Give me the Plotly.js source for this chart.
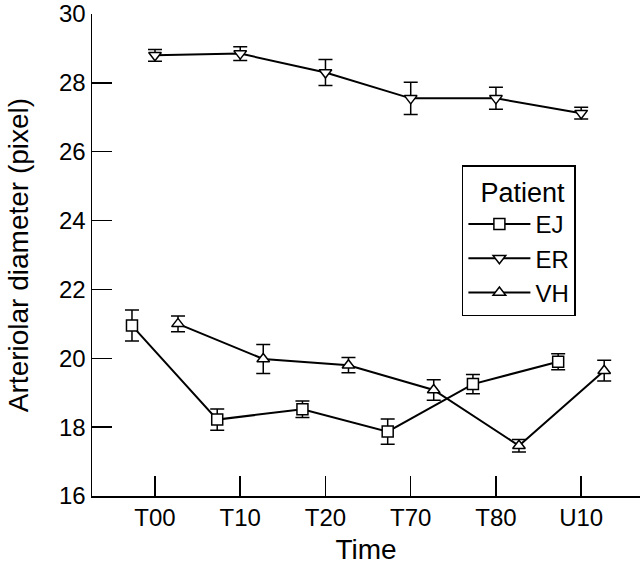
<!DOCTYPE html>
<html>
<head>
<meta charset="utf-8">
<script src="https://cdn.plot.ly/plotly-3.0.1.min.js"></script>
<style>html,body{margin:0;padding:0;background:#fff;}#chart{width:640px;height:565px;}</style>
</head>
<body>
<div id="chart"></div>
<script>
const categories = ['T00', 'T10', 'T20', 'T70', 'T80', 'U10'];
const yTicks = [16, 18, 20, 22, 24, 26, 28, 30];
const ejValues = [20.95, 18.22, 18.52, 17.87, 19.25, 19.9];
const ejErrors = [0.45, 0.31, 0.24, 0.37, 0.28, 0.23];
const erValues = [28.8, 28.85, 28.3, 27.55, 27.55, 27.12];
const erErrors = [0.17, 0.2, 0.38, 0.47, 0.32, 0.17];
const vhValues = [21.0, 19.98, 19.8, 19.08, 17.46, 19.64];
const vhErrors = [0.23, 0.42, 0.22, 0.3, 0.18, 0.3];

const dodge = 0.27;
const FONT = '"Liberation Sans", Arial, sans-serif';

function series(name, values, errors, offset, symbol) {
  return {
    type: 'scatter', mode: 'lines+markers', name: name,
    x: categories.map((c, i) => i + offset),
    y: values,
    line: {color: '#000', width: 2},
    marker: {symbol: symbol, size: 11, color: '#fff', line: {color: '#000', width: 1.5}},
    error_y: {type: 'data', array: errors, visible: true, color: '#000', thickness: 1.5, width: 7}
  };
}

const data = [
  series('EJ', ejValues, ejErrors, -dodge, 'square'),
  series('ER', erValues, erErrors, 0, 'triangle-down'),
  series('VH', vhValues, vhErrors, dodge, 'triangle-up')
];

const layout = {
  width: 640, height: 565,
  margin: {l: 92, r: 0, t: 14, b: 69},
  paper_bgcolor: '#fff', plot_bgcolor: '#fff',
  font: {family: FONT, color: '#000', size: 24},
  showlegend: true,
  legend: {
    x: 0.675, y: 0.686, xanchor: 'left', yanchor: 'top',
    bgcolor: '#fff', bordercolor: '#000', borderwidth: 1.5,
    itemwidth: 62,
    font: {family: FONT, size: 24, color: '#000'},
    title: {text: '\u00a0\u00a0Patient', font: {family: FONT, size: 27, color: '#000'}},
    tracegroupgap: 0
  },
  xaxis: {
    range: [-0.739, 5.69],
    tickmode: 'array', tickvals: categories.map((c, i) => i), ticktext: categories,
    ticks: 'inside', ticklen: 20, tickwidth: 1.5, tickcolor: '#000',
    showline: true, linecolor: '#000', linewidth: 1.5,
    showgrid: false, zeroline: false,
    tickfont: {family: FONT, size: 24, color: '#000'},
    title: {text: 'Time', font: {family: FONT, size: 28, color: '#000'}, standoff: 10}
  },
  yaxis: {
    range: [16, 30],
    tickmode: 'array', tickvals: yTicks,
    ticklabeloverflow: 'allow',
    ticks: 'inside', ticklen: 20, tickwidth: 1.5, tickcolor: '#000',
    showline: true, linecolor: '#000', linewidth: 1.5,
    showgrid: false, zeroline: false,
    tickfont: {family: FONT, size: 24, color: '#000'},
    title: {text: 'Arteriolar diameter (pixel)', font: {family: FONT, size: 28, color: '#000'}, standoff: 22}
  }
};

Plotly.newPlot('chart', data, layout, {displayModeBar: false, staticPlot: true});
</script>
</body>
</html>
